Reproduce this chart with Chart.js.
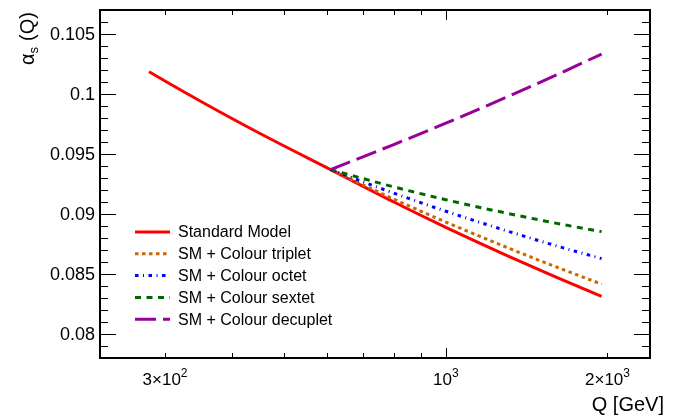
<!DOCTYPE html>
<html>
<head>
<meta charset="utf-8">
<script src="https://cdn.jsdelivr.net/npm/chart.js@4.4.1/dist/chart.umd.min.js"></script>
<style>
html,body{margin:0;padding:0;background:#fff;}
#wrap{width:673px;height:415px;position:relative;}
</style>
</head>
<body>
<div id="wrap"><canvas id="c" width="673" height="415"></canvas></div>
<script>
// ---- data ----
const qSM = [280, 350, 450, 610, 800, 1000, 1300, 1600, 1950];
const alphaSM = [0.10185, 0.09938, 0.09673, 0.0937, 0.09100, 0.08889, 0.08654, 0.08476, 0.08313];
const qBSM = [610, 800, 1000, 1300, 1600, 1950];
const alphaTriplet = [0.0937, 0.09124, 0.08933, 0.08721, 0.08561, 0.08416];
const alphaOctet = [0.0937, 0.09174, 0.09023, 0.08859, 0.08737, 0.08628];
const alphaSextet = [0.0937, 0.09226, 0.09119, 0.09006, 0.08924, 0.08853];
const alphaDecuplet = [0.0937, 0.09579, 0.09757, 0.09975, 0.10155, 0.10333];

const seriesLabels = ['Standard Model', 'SM + Colour triplet', 'SM + Colour octet', 'SM + Colour sextet', 'SM + Colour decuplet'];

// ---- axes ----
const xMin = 227, xMax = 2400;
const yMin = 0.078, yMax = 0.107;
const yMajorTicks = [0.08, 0.085, 0.09, 0.095, 0.1, 0.105];
const yTickLabels = ['0.08', '0.085', '0.09', '0.095', '0.1', '0.105'];
const xMajorTicks = [1000];
const xMinorTicks = [300, 400, 500, 600, 700, 800, 900, 2000];
const xLabelValues = [300, 1000, 2000];
const xLabelBase = ['3\u00d710', '10', '2\u00d710'];
const xLabelExp = ['2', '3', '3'];

const FONT = '"Liberation Sans", Arial, Helvetica, sans-serif';

function pts(xs, ys) { return xs.map((v, i) => ({x: v, y: ys[i]})); }

const styles = [
  {color: '#ff0000', dash: []},
  {color: '#cc6600', dash: [3.5, 3.5]},
  {color: '#0000ff', dash: [3.5, 4.5, 1, 4.5]},
  {color: '#006600', dash: [6, 5.5]},
  {color: '#990099', dash: [21, 7]}
];
const seriesData = [pts(qSM, alphaSM), pts(qBSM, alphaTriplet), pts(qBSM, alphaOctet), pts(qBSM, alphaSextet), pts(qBSM, alphaDecuplet)];

const datasets = seriesData.map((d, i) => ({
  label: seriesLabels[i],
  data: d,
  borderColor: styles[i].color,
  backgroundColor: styles[i].color,
  borderDash: styles[i].dash,
  borderWidth: 3,
  pointRadius: 0,
  fill: false,
  cubicInterpolationMode: 'monotone',
  borderCapStyle: 'butt',
  order: 5 - i
}));

const rootPlugin = {
  id: 'rootFrame',
  afterDatasetsDraw(chart) {
    const {ctx, chartArea: a, scales: {x, y}} = chart;
    ctx.save();
    ctx.strokeStyle = '#000';
    ctx.fillStyle = '#000';
    // y ticks (left and right, inward)
    ctx.lineWidth = 1;
    const nMinor = Math.round((yMax - yMin) / 0.001);
    for (let k = 0; k <= nMinor; k++) {
      const v = yMin + k * 0.001;
      const isMajor = yMajorTicks.some(t => Math.abs(t - v) < 1e-7);
      const len = isMajor ? 16 : 8;
      const py = Math.round(y.getPixelForValue(v)) + 0.5;
      ctx.beginPath();
      ctx.moveTo(a.left, py); ctx.lineTo(a.left + len, py);
      ctx.moveTo(a.right, py); ctx.lineTo(a.right - len, py);
      ctx.stroke();
    }
    // x ticks (bottom and top, inward)
    const xt = xMinorTicks.map(v => [v, 5]).concat(xMajorTicks.map(v => [v, 10]));
    xt.forEach(([v, len]) => {
      const px = Math.round(x.getPixelForValue(v)) + 0.5;
      ctx.beginPath();
      ctx.moveTo(px, a.bottom); ctx.lineTo(px, a.bottom - len);
      ctx.moveTo(px, a.top); ctx.lineTo(px, a.top + len);
      ctx.stroke();
    });
    // frame
    ctx.lineWidth = 2;
    ctx.strokeRect(a.left, a.top, a.right - a.left, a.bottom - a.top);

    // y labels
    ctx.font = '18px ' + FONT;
    ctx.textAlign = 'right';
    ctx.textBaseline = 'middle';
    yMajorTicks.forEach((v, i) => {
      ctx.fillText(yTickLabels[i], a.left - 5, y.getPixelForValue(v) + 1);
    });
    // x labels with superscript
    xLabelValues.forEach((v, i) => {
      const px = x.getPixelForValue(v);
      ctx.font = '17px ' + FONT;
      const wb = ctx.measureText(xLabelBase[i]).width;
      ctx.font = '12px ' + FONT;
      const we = ctx.measureText(xLabelExp[i]).width;
      const x0 = px - (wb + we) / 2;
      ctx.textAlign = 'left';
      ctx.textBaseline = 'alphabetic';
      ctx.font = '17px ' + FONT;
      ctx.fillText(xLabelBase[i], x0, a.bottom + 27);
      ctx.font = '12px ' + FONT;
      ctx.fillText(xLabelExp[i], x0 + wb, a.bottom + 19);
    });
    // x title
    ctx.font = '20px ' + FONT;
    ctx.textAlign = 'right';
    ctx.textBaseline = 'alphabetic';
    ctx.fillText('Q [GeV]', a.right + 14, a.bottom + 53);
    // y title (rotated)
    ctx.save();
    ctx.translate(34, a.top + 2);
    ctx.rotate(-Math.PI / 2);
    ctx.textAlign = 'left';
    ctx.textBaseline = 'alphabetic';
    ctx.font = '20px ' + FONT;
    const wQ = ctx.measureText('(Q)').width;
    const wA = ctx.measureText('\u03b1').width;
    const gap = 6;
    ctx.font = '13px ' + FONT;
    const wS = ctx.measureText('s').width;
    let tx = -(wA + wS + gap + wQ);
    ctx.font = '20px ' + FONT;
    ctx.fillText('\u03b1', tx, 0);
    ctx.font = '13px ' + FONT;
    ctx.fillText('s', tx + wA, 4);
    ctx.font = '20px ' + FONT;
    ctx.fillText('(Q)', tx + wA + wS + gap, 0);
    ctx.restore();

    // legend
    const lx0 = 135, lx1 = 170, ltx = 178, ly0 = 232, ldy = 21.8;
    chart.data.datasets.forEach((ds, i) => {
      const ly = ly0 + i * ldy;
      ctx.save();
      ctx.strokeStyle = ds.borderColor;
      ctx.lineWidth = 3;
      ctx.setLineDash(ds.borderDash);
      ctx.lineCap = 'butt';
      ctx.beginPath();
      ctx.moveTo(lx0, ly); ctx.lineTo(lx1, ly);
      ctx.stroke();
      ctx.restore();
      ctx.fillStyle = '#000';
      ctx.font = '16px ' + FONT;
      ctx.textAlign = 'left';
      ctx.textBaseline = 'middle';
      ctx.fillText(ds.label, ltx, ly + 1);
    });
    ctx.restore();
  }
};

new Chart(document.getElementById('c'), {
  type: 'line',
  data: {datasets},
  options: {
    responsive: false,
    animation: false,
    devicePixelRatio: 1,
    layout: {padding: {left: 100, right: 23, top: 10, bottom: 57}},
    plugins: {legend: {display: false}, tooltip: {enabled: false}},
    scales: {
      x: {type: 'logarithmic', min: xMin, max: xMax, display: false},
      y: {type: 'linear', min: yMin, max: yMax, display: false}
    }
  },
  plugins: [rootPlugin]
});
</script>
</body>
</html>
